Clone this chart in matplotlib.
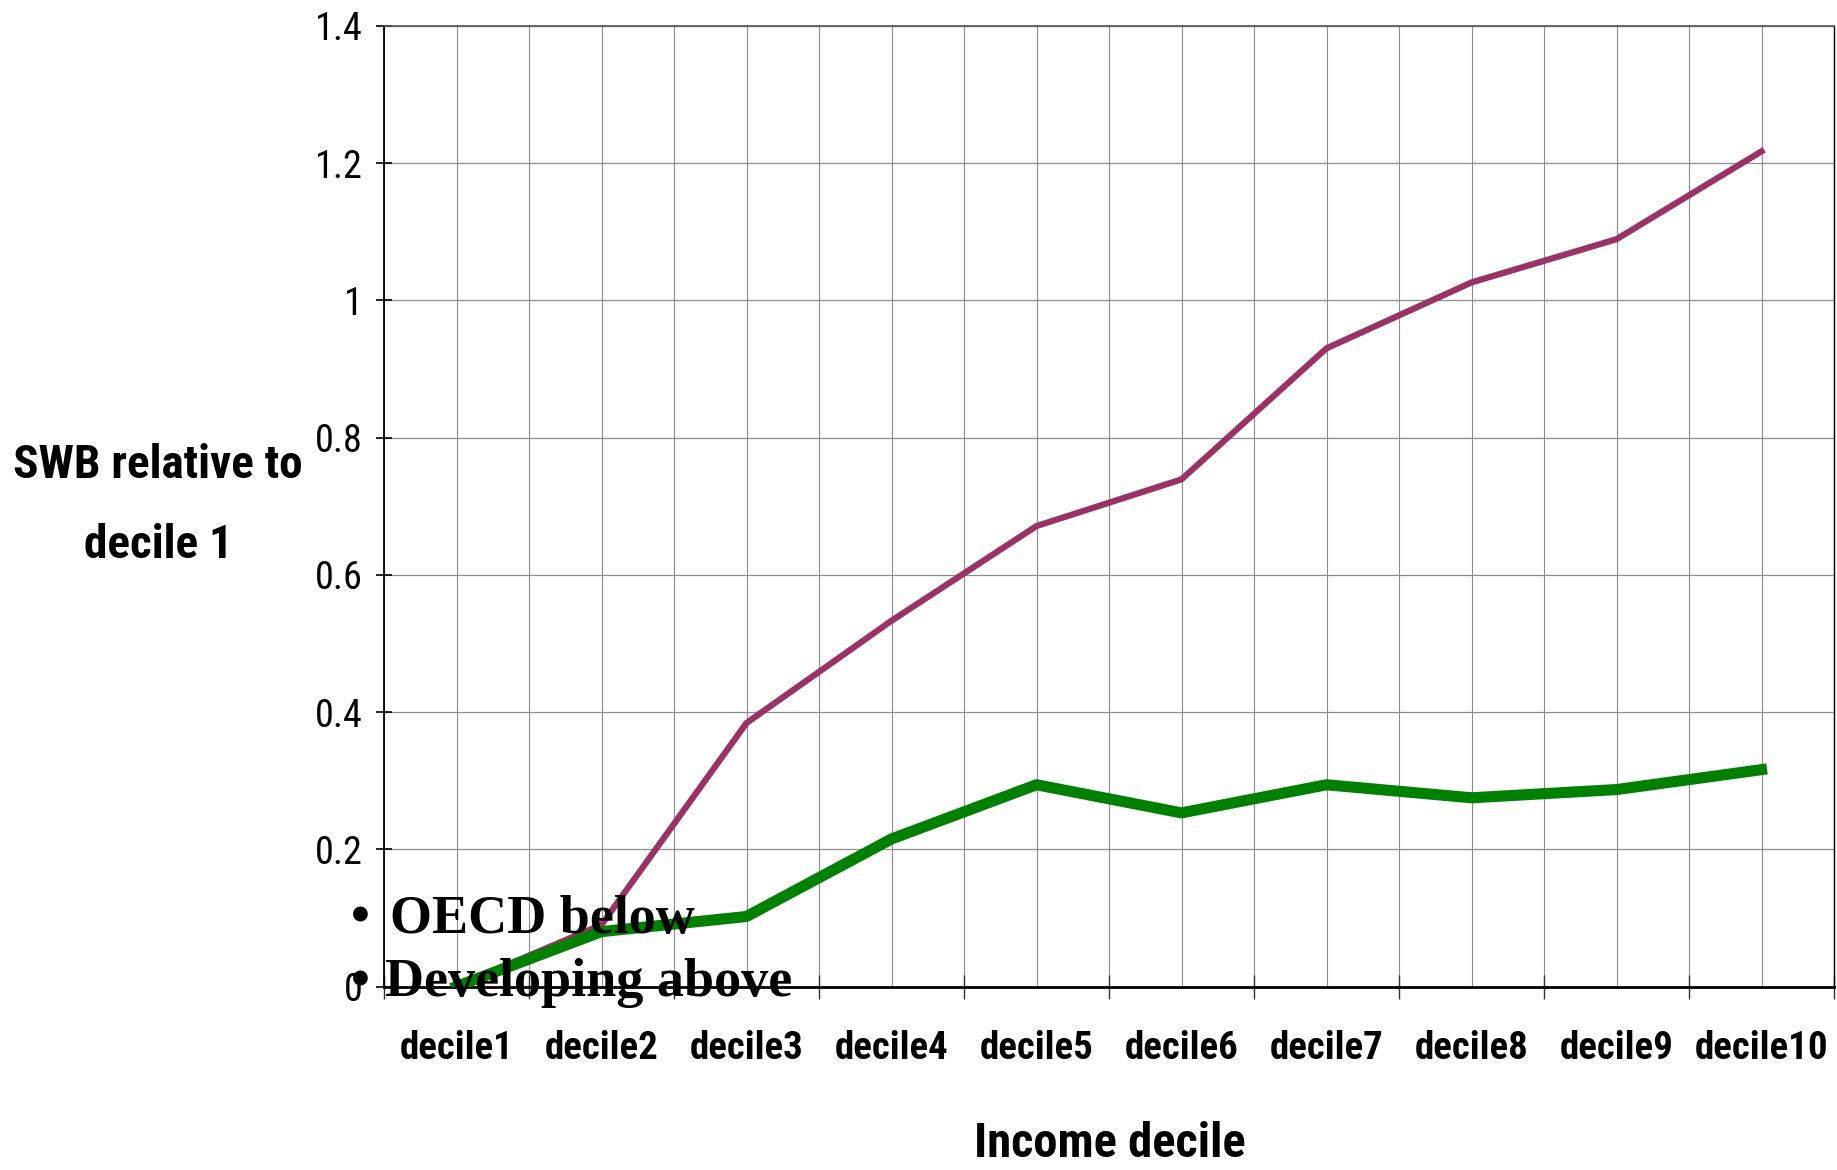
import matplotlib
matplotlib.use('Agg')
import matplotlib.pyplot as plt
from matplotlib.ticker import FixedLocator, FixedFormatter, NullFormatter

# ---- data ----
categories = ['decile1', 'decile2', 'decile3', 'decile4', 'decile5',
              'decile6', 'decile7', 'decile8', 'decile9', 'decile10']
developing = [0.0, 0.090, 0.384, 0.533, 0.671, 0.739, 0.930, 1.026, 1.089, 1.217]
oecd = [0.0, 0.080, 0.102, 0.215, 0.294, 0.253, 0.294, 0.275, 0.287, 0.316]
y_ticks = [0, 0.2, 0.4, 0.6, 0.8, 1.0, 1.2, 1.4]
y_tick_labels = ['0', '0.2', '0.4', '0.6', '0.8', '1', '1.2', '1.4']
y_label = 'SWB relative to\ndecile 1'
x_label = 'Income decile'
note_lines = ['OECD below', 'Developing above']

SANS = ['Liberation Sans Narrow', 'Roboto Condensed', 'Liberation Sans', 'DejaVu Sans']
SERIF = ['Liberation Serif', 'DejaVu Serif']

W, H = 1837, 1170
fig = plt.figure(figsize=(W / 100, H / 100), dpi=100)
L, R, T, B = 384, 1834, 25.8, 986.5
ax = fig.add_axes([L / W, 1 - B / H, (R - L) / W, (B - T) / H])

xs = list(range(len(categories)))
ax.plot(xs, developing, color='#993366', lw=4.5, zorder=3)
ax.plot(xs, oecd, color='#008000', lw=8.0, zorder=3)

ax.set_xlim(-0.5, len(categories) - 0.5)
ax.set_ylim(0, 1.4)

ax.xaxis.set_major_locator(FixedLocator(xs))
ax.xaxis.set_major_formatter(FixedFormatter(categories))
ax.xaxis.set_minor_locator(FixedLocator([i - 0.5 for i in range(len(categories) + 1)]))
ax.xaxis.set_minor_formatter(NullFormatter())
ax.tick_params(axis='x', which='major', length=0, pad=31)
ax.tick_params(axis='x', which='minor', direction='inout', length=16.6, width=1.0, color='#333333')

ax.yaxis.set_major_locator(FixedLocator(y_ticks))
ax.yaxis.set_major_formatter(FixedFormatter(y_tick_labels))
ax.tick_params(axis='y', which='major', direction='inout', length=11, width=1.2, pad=10)

for lab in ax.get_xticklabels():
    lab.set_fontfamily(SANS)
    lab.set_fontsize(28)
    lab.set_fontweight('bold')
for lab in ax.get_yticklabels():
    lab.set_fontfamily(SANS)
    lab.set_fontsize(27.5)

ax.grid(True, which='both', axis='x', color='#8c8c8c', lw=0.8)
ax.grid(True, which='major', axis='y', color='#8c8c8c', lw=0.9)
ax.set_axisbelow(True)

ax.spines['left'].set_linewidth(1.3)
ax.spines['left'].set_color('black')
ax.spines['bottom'].set_linewidth(2.0)
ax.spines['bottom'].set_color('black')
ax.spines['top'].set_linewidth(1.2)
ax.spines['top'].set_color('#555555')
ax.spines['right'].set_linewidth(1.0)
ax.spines['right'].set_color('black')

fig.text(158 / W, 1 - 505 / H, y_label, ha='center', va='center',
         multialignment='center', fontsize=34, fontweight='bold',
         family=SANS, linespacing=2.05)
fig.text(1110 / W, 1 - 1157 / H, x_label, ha='center', va='baseline',
         fontsize=35, fontweight='bold', family=SANS)

baselines = [932.7, 996]
text_x = [390, 385]
for line, yb, tx in zip(note_lines, baselines, text_x):
    fig.text(360 / W, 1 - yb / H, '\u2022', ha='center', va='baseline',
             fontsize=39, fontweight='bold', family=SERIF, zorder=10)
    fig.text(tx / W, 1 - yb / H, line, ha='left', va='baseline',
             fontsize=39, fontweight='bold', family=SERIF, zorder=10)

fig.savefig('out.png', dpi=100)
